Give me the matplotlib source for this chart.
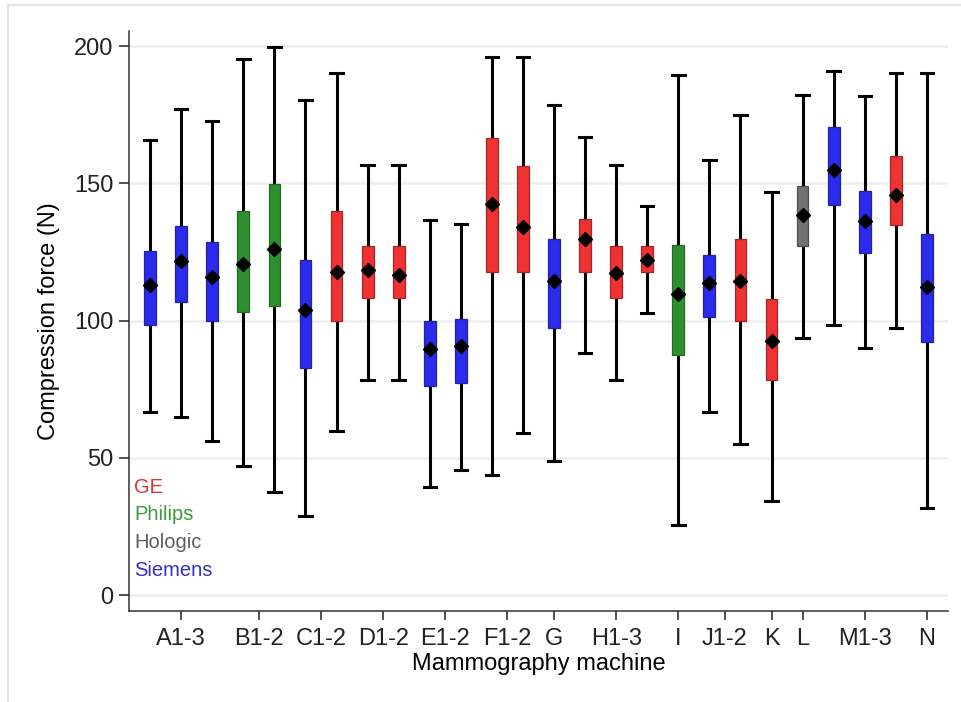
import matplotlib.pyplot as plt
from matplotlib.lines import Line2D

plt.rcParams['font.family'] = ['Liberation Sans', 'DejaVu Sans']

# one entry per box, left to right
makers = ['S', 'S', 'S', 'P', 'P', 'S', 'G', 'G', 'G', 'S', 'S', 'G', 'G', 'S',
          'G', 'G', 'G', 'P', 'S', 'G', 'G', 'H', 'S', 'S', 'G', 'S']
whislo = [66.6, 64.7, 56.0, 47.1, 37.4, 28.8, 59.8, 78.2, 78.2, 39.4, 45.4, 43.8, 58.9,
          48.7, 88.2, 78.3, 102.6, 25.4, 66.6, 55.0, 34.1, 93.8, 98.3, 90.1, 97.3, 31.7]
q1 = [98.4, 106.6, 99.8, 103.2, 105.2, 82.9, 99.8, 108.2, 108.2, 76.2, 77.4, 117.7, 117.7,
      97.3, 117.7, 108.2, 117.7, 87.4, 101.3, 99.8, 78.4, 127.1, 142.2, 124.7, 134.9, 92.1]
med = [113.1, 121.7, 115.9, 120.7, 126.1, 103.8, 117.7, 118.4, 116.5, 89.8, 90.7, 142.3, 134.0,
       114.6, 129.6, 117.4, 121.9, 109.7, 113.6, 114.6, 92.7, 138.4, 154.9, 136.4, 145.7, 112.2]
q3 = [125.3, 134.5, 128.7, 139.8, 149.7, 121.9, 139.8, 127.2, 127.2, 100.0, 100.5, 166.7, 156.5,
      129.6, 136.9, 127.2, 127.2, 127.7, 123.8, 129.6, 107.8, 149.1, 170.5, 147.1, 159.9, 131.6]
whishi = [165.7, 177.1, 172.6, 195.4, 199.8, 180.5, 190.3, 156.7, 156.7, 136.6, 135.1, 195.9, 195.9,
          178.4, 166.9, 156.6, 141.9, 189.6, 158.5, 175.0, 146.8, 182.3, 191.1, 181.8, 190.2, 190.2]

tick_pos = [2, 4.5, 6.5, 8.5, 10.5, 12.5, 14, 16, 18, 19.5, 21, 22, 24, 26]
tick_labels = ['A1-3', 'B1-2', 'C1-2', 'D1-2', 'E1-2', 'F1-2', 'G', 'H1-3',
               'I', 'J1-2', 'K', 'L', 'M1-3', 'N']

brand_names = ['GE', 'Philips', 'Hologic', 'Siemens']
brand_keys = ['G', 'P', 'H', 'S']
fill = {'G': '#F03232', 'P': '#2F8F2F', 'H': '#727272', 'S': '#2B2BEE'}
edge = {'G': '#A02828', 'P': '#246A24', 'H': '#4E4E4E', 'S': '#22229E'}
text_col = {'G': '#D83434', 'P': '#3C9A3C', 'H': '#5E5E5E', 'S': '#3232C0'}

fig = plt.figure(figsize=(9.62, 7.02), dpi=100)
ax = fig.add_axes([129 / 962, 1 - 611 / 702, (948 - 129) / 962, (611 - 31) / 702])

pos = list(range(1, len(med) + 1))
stats = []
for i in range(len(med)):
    stats.append({'whislo': whislo[i], 'q1': q1[i], 'med': med[i],
                  'q3': q3[i], 'whishi': whishi[i], 'fliers': []})

bp = ax.bxp(stats, positions=pos, widths=0.38, patch_artist=True, showfliers=False,
            boxprops=dict(linewidth=0.9),
            whiskerprops=dict(color='black', linewidth=2.2),
            capprops=dict(color='black', linewidth=2.2),
            medianprops=dict(visible=False), capwidths=0.4)
for patch, m in zip(bp['boxes'], makers):
    patch.set_facecolor(fill[m])
    patch.set_edgecolor(edge[m])
    patch.set_zorder(3)

ax.plot(pos, med, linestyle='none', marker='D', markersize=7.3, color='black', zorder=4)

ax.set_xlim(0.32, 26.68)
ax.set_ylim(-5.8, 205.5)
ax.set_yticks([0, 50, 100, 150, 200])
ax.set_xticks(tick_pos)
ax.set_xticklabels(tick_labels)
ax.yaxis.grid(True, color='#EEEEEE', linewidth=1.8)
ax.set_axisbelow(True)
ax.tick_params(axis='both', labelsize=17, colors='#222222', width=1.1)
ax.tick_params(axis='y', length=7, pad=4)
ax.tick_params(axis='x', length=6.5, pad=6)
for s in ['top', 'right']:
    ax.spines[s].set_visible(False)
for s in ['left', 'bottom']:
    ax.spines[s].set_color('#333333')
    ax.spines[s].set_linewidth(1.1)

ax.set_ylabel('Compression force (N)', fontsize=17, labelpad=10)
ax.set_xlabel('Mammography machine', fontsize=17, labelpad=2)

# brand colour key in the lower left corner
for k, (name, key) in enumerate(zip(brand_names, brand_keys)):
    ax.text(0.48, 39.3 - k * 10.1, name, color=text_col[key], fontsize=14.5,
            ha='left', va='center')

# faint frame lines of the original screenshot
fig.add_artist(Line2D([8 / 962, 8 / 962], [0, 1 - 5 / 702], color='#E4E4E4', lw=1.5))
fig.add_artist(Line2D([8 / 962, 1], [1 - 5 / 702, 1 - 5 / 702], color='#E4E4E4', lw=1.5))

fig.savefig('out.png', dpi=100)
